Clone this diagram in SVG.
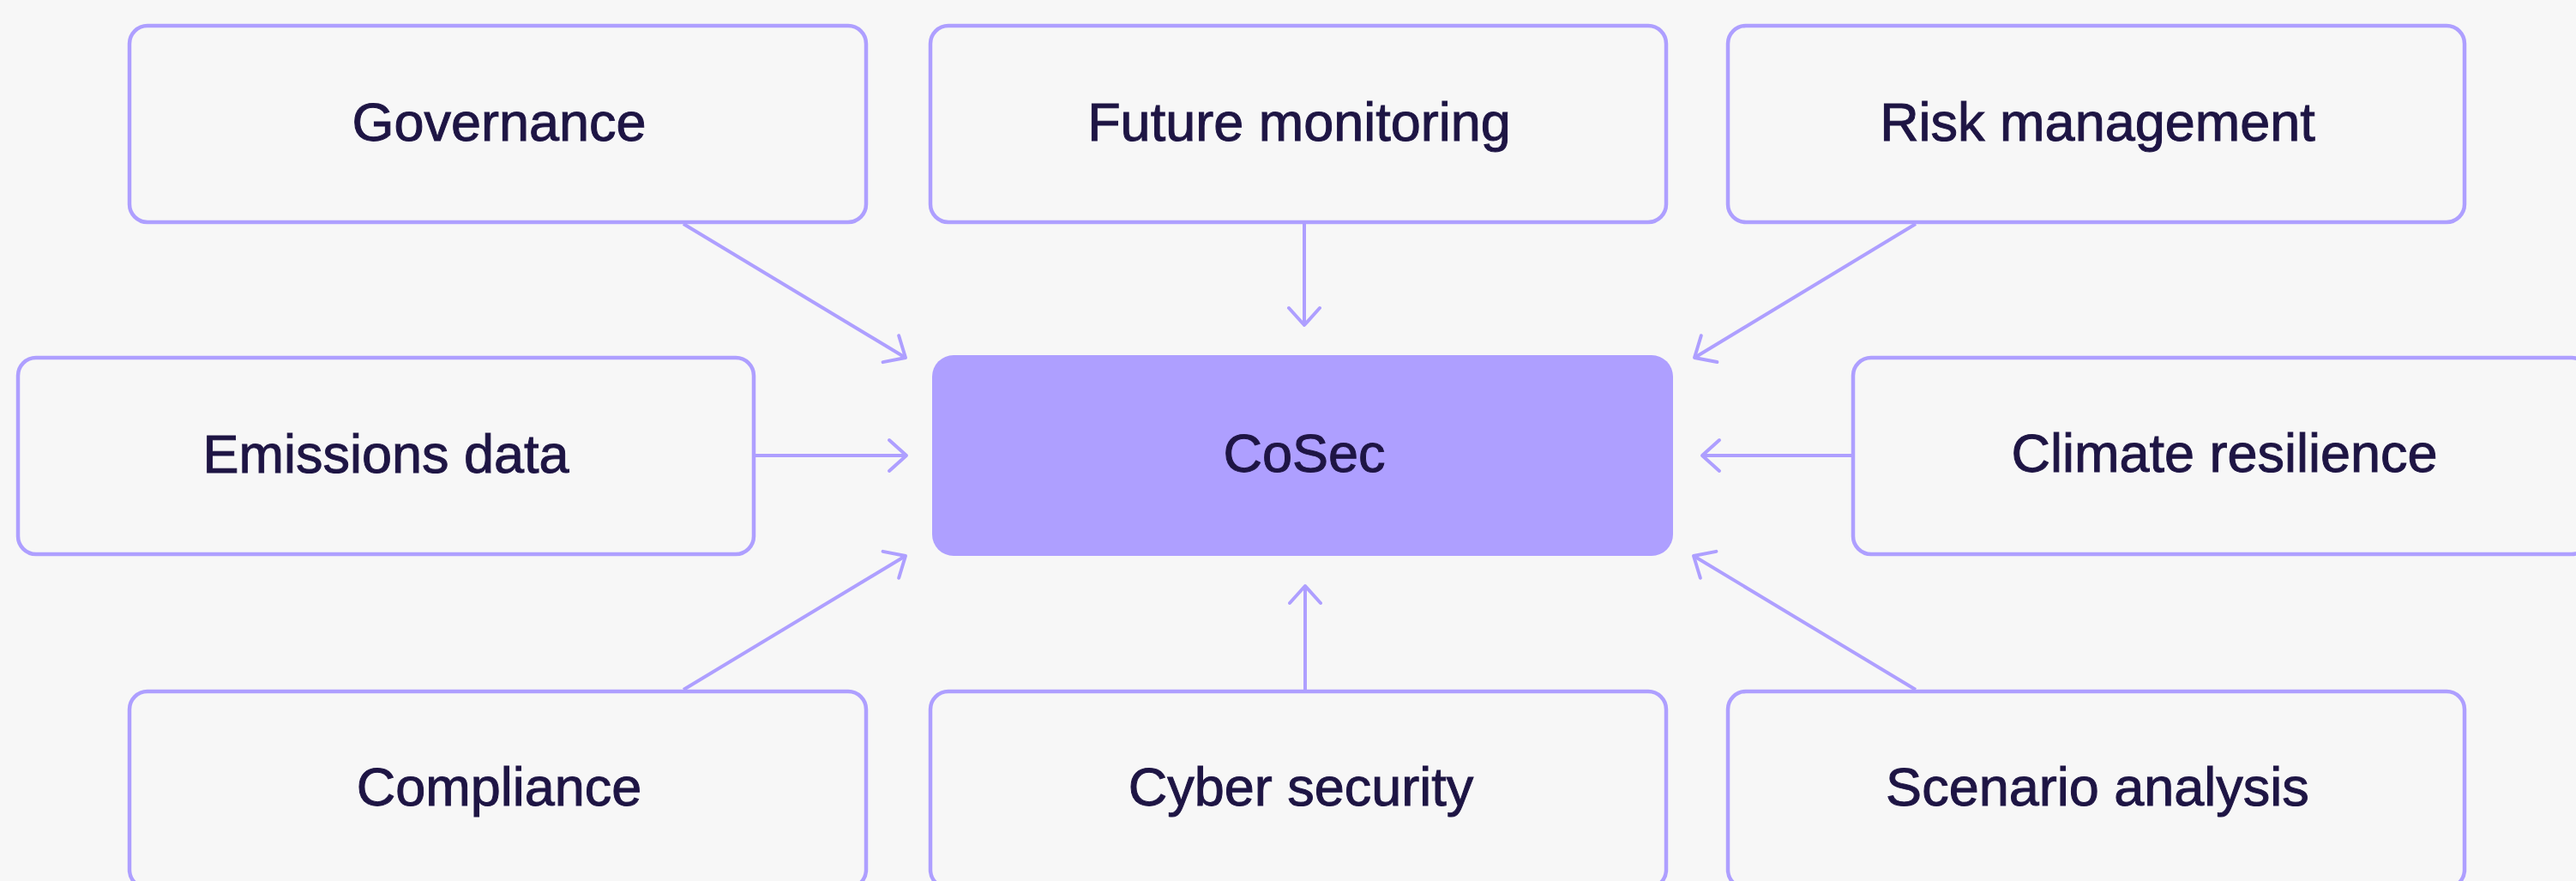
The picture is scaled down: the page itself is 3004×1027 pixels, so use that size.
<svg xmlns="http://www.w3.org/2000/svg" width="3004" height="1027" viewBox="0 0 3004 1027">
<style>
.box{fill:#F7F7F7;stroke:#AE9FFF;stroke-width:4.5}
.hub{fill:#AE9FFF;stroke:none}
.lbl{font-family:"Liberation Sans",Arial,sans-serif;font-size:63px;fill:#1E1544;stroke:#1E1544;stroke-width:1;text-anchor:middle}
.con{fill:none;stroke:#AE9FFF;stroke-width:4}
</style>
<defs>
<marker id="arr" markerUnits="userSpaceOnUse" markerWidth="60" markerHeight="60" viewBox="-30 -30 60 60" refX="0" refY="0" orient="auto" overflow="visible">
<path d="M-20,-18 L0,0 L-20,18" fill="none" stroke="#AE9FFF" stroke-width="4" stroke-linecap="round" stroke-linejoin="round"/>
</marker>
</defs>
<rect x="0" y="0" width="3004" height="1027" fill="#F7F7F7"/>
<g id="connectors">
<path class="con" d="M797,261 L1056,417" marker-end="url(#arr)"/>
<path class="con" d="M1521,261 L1521,379" marker-end="url(#arr)"/>
<path class="con" d="M2234,261 L1976,417" marker-end="url(#arr)"/>
<path class="con" d="M881,531 L1057,531" marker-end="url(#arr)"/>
<path class="con" d="M2159,531 L1985,531" marker-end="url(#arr)"/>
<path class="con" d="M797,804 L1056,648" marker-end="url(#arr)"/>
<path class="con" d="M1522,804 L1522,683" marker-end="url(#arr)"/>
<path class="con" d="M2234,804 L1975,648" marker-end="url(#arr)"/>
</g>
<g id="governance"><rect class="box" x="151" y="30" width="859" height="229" rx="21"/><text class="lbl" x="582" y="164">Governance</text></g>
<g id="future-monitoring"><rect class="box" x="1085" y="30" width="858" height="229" rx="21"/><text class="lbl" x="1515" y="164">Future monitoring</text></g>
<g id="risk-management"><rect class="box" x="2015" y="30" width="859" height="229" rx="21"/><text class="lbl" x="2446" y="164">Risk management</text></g>
<g id="emissions-data"><rect class="box" x="21" y="417" width="858" height="229" rx="21"/><text class="lbl" x="450" y="551">Emissions data</text></g>
<g id="cosec"><rect class="hub" x="1087" y="414" width="864" height="234" rx="25"/><text class="lbl" x="1521" y="550">CoSec</text></g>
<g id="climate-resilience"><rect class="box" x="2161" y="417" width="859" height="229" rx="21"/><text class="lbl" x="2594" y="550">Climate resilience</text></g>
<g id="compliance"><rect class="box" x="151" y="806" width="859" height="229" rx="21"/><text class="lbl" x="582" y="939">Compliance</text></g>
<g id="cyber-security"><rect class="box" x="1085" y="806" width="858" height="229" rx="21"/><text class="lbl" x="1517" y="939">Cyber security</text></g>
<g id="scenario-analysis"><rect class="box" x="2015" y="806" width="859" height="229" rx="21"/><text class="lbl" x="2446" y="939">Scenario analysis</text></g>
</svg>
